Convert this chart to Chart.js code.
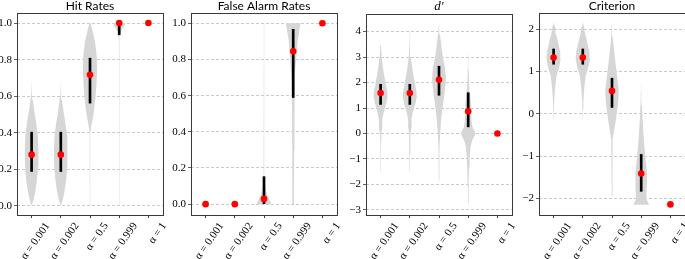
<!DOCTYPE html>
<html>
<head>
<meta charset="utf-8">
<script src="https://cdn.jsdelivr.net/npm/chart.js@4.4.1/dist/chart.umd.min.js"></script>
<style>
  html, body { margin: 0; padding: 0; background: #fff; }
  #wrap { position: relative; width: 685px; height: 259px; overflow: hidden; }
  canvas { position: absolute; top: 0; }
</style>
</head>
<body>
<div id="wrap">
  <canvas id="c0"></canvas>
  <canvas id="c1"></canvas>
  <canvas id="c2"></canvas>
  <canvas id="c3"></canvas>
</div>
<script>
// categories shared by all four panels
const categories = ['α = 0.001', 'α = 0.002', 'α = 0.5', 'α = 0.999', 'α = 1'];

// --- Hit Rates ---
const hitMedian = [0.28, 0.28, 0.717, 1.0, 1.0];
const hitQ1 = [0.188, 0.188, 0.562, 0.936, null];
const hitQ3 = [0.403, 0.403, 0.808, 1.0, null];
const hitTicks = [0, 0.2, 0.4, 0.6, 0.8, 1.0];
const hitTickLabels = ['0.0', '0.2', '0.4', '0.6', '0.8', '1.0'];
// violin outlines: [value, half width]
const hitViolins = [
  [[0,0],[0.03,0.06],[0.08,0.13],[0.15,0.19],[0.22,0.225],[0.3,0.235],[0.38,0.215],[0.45,0.16],[0.52,0.09],[0.58,0.04],[0.62,0.015],[0.7,0.006],[1.0,0.005]],
  [[0,0],[0.03,0.06],[0.08,0.13],[0.15,0.19],[0.22,0.225],[0.3,0.235],[0.38,0.215],[0.45,0.16],[0.52,0.09],[0.58,0.04],[0.62,0.015],[0.7,0.006],[1.0,0.005]],
  [[0,0.005],[0.3,0.006],[0.4,0.012],[0.45,0.06],[0.5,0.12],[0.58,0.18],[0.66,0.22],[0.75,0.245],[0.82,0.23],[0.9,0.17],[0.95,0.1],[1.0,0.02]],
  [[0,0.005],[0.6,0.005],[0.85,0.006],[0.92,0.015],[0.95,0.04],[0.97,0.1],[0.985,0.18],[1.0,0.22]],
  [[0.75,0.005],[1.0,0.006]]
];

// --- False Alarm Rates ---
const faMedian = [0, 0, 0.029, 0.845, 1.0];
const faQ1 = [null, null, 0.0, 0.59, null];
const faQ3 = [null, null, 0.152, 0.967, null];
const faTicks = [0, 0.2, 0.4, 0.6, 0.8, 1.0];
const faTickLabels = ['0.0', '0.2', '0.4', '0.6', '0.8', '1.0'];
const faViolins = [
  [[0,0.006],[1.0,0.005]],
  [[0,0.006],[1.0,0.005]],
  [[0,0.25],[0.015,0.22],[0.03,0.17],[0.05,0.11],[0.08,0.06],[0.12,0.03],[0.2,0.012],[0.35,0.008],[0.6,0.006],[1.0,0.005]],
  [[0,0.015],[0.1,0.025],[0.3,0.03],[0.5,0.035],[0.6,0.04],[0.7,0.06],[0.8,0.1],[0.9,0.15],[0.95,0.2],[1.0,0.25]],
  [[0.15,0.005],[1.0,0.006]]
];

// --- d' ---
const dMedian = [1.59, 1.59, 2.11, 0.87, 0];
const dQ1 = [1.14, 1.14, 1.5, 0.26, null];
const dQ3 = [1.93, 1.93, 2.64, 1.6, null];
const dTicks = [-3, -2, -1, 0, 1, 2, 3, 4];
const dTickLabels = ['−3', '−2', '−1', '0', '1', '2', '3', '4'];
const dViolins = [
  [[-1.5,0.005],[-0.8,0.008],[-0.3,0.014],[0,0.025],[0.2,0.05],[0.3,0.065],[0.45,0.05],[0.6,0.065],[0.8,0.1],[1.0,0.15],[1.2,0.2],[1.45,0.24],[1.6,0.235],[1.8,0.2],[2.0,0.17],[2.3,0.12],[2.6,0.08],[3.0,0.035],[3.5,0.012],[4.0,0.007],[4.35,0.004]],
  [[-1.5,0.005],[-0.8,0.008],[-0.3,0.014],[0,0.025],[0.2,0.05],[0.3,0.065],[0.45,0.05],[0.6,0.065],[0.8,0.1],[1.0,0.15],[1.2,0.2],[1.45,0.24],[1.6,0.235],[1.8,0.2],[2.0,0.17],[2.3,0.12],[2.6,0.08],[3.0,0.035],[3.5,0.012],[4.0,0.007],[4.35,0.004]],
  [[-1.85,0.005],[-1.2,0.009],[-0.6,0.018],[0,0.04],[0.5,0.07],[1.0,0.12],[1.5,0.18],[2.0,0.23],[2.2,0.235],[2.6,0.2],[3.0,0.13],[3.5,0.075],[3.9,0.03],[4.3,0.005]],
  [[-2.8,0.004],[-2.3,0.008],[-1.8,0.02],[-1.3,0.035],[-0.9,0.05],[-0.5,0.085],[-0.25,0.145],[-0.08,0.23],[0,0.25],[0.1,0.22],[0.25,0.145],[0.5,0.115],[0.8,0.11],[1.0,0.11],[1.3,0.085],[1.6,0.06],[2.0,0.035],[2.5,0.015],[3.0,0.007],[3.3,0.004]],
  [[-1.45,0.005],[3.2,0.005]]
];

// --- Criterion ---
const critMedian = [1.33, 1.33, 0.54, -1.41, -2.14];
const critQ1 = [1.17, 1.17, 0.15, -1.83, null];
const critQ3 = [1.53, 1.53, 0.84, -0.96, null];
const critTicks = [-2, -1, 0, 1, 2];
const critTickLabels = ['−2', '−1', '0', '1', '2'];
const critViolins = [
  [[-0.12,0.004],[0.1,0.008],[0.3,0.02],[0.6,0.05],[0.9,0.1],[1.1,0.19],[1.3,0.245],[1.45,0.23],[1.6,0.18],[1.8,0.115],[1.88,0.08],[1.95,0.07],[2.02,0.055],[2.1,0.02],[2.17,0.005]],
  [[-0.12,0.004],[0.1,0.008],[0.3,0.02],[0.6,0.05],[0.9,0.1],[1.1,0.19],[1.3,0.245],[1.45,0.23],[1.6,0.18],[1.8,0.115],[1.88,0.08],[1.95,0.07],[2.02,0.055],[2.1,0.02],[2.17,0.005]],
  [[-1.95,0.004],[-1.2,0.007],[-0.6,0.03],[-0.4,0.07],[-0.2,0.12],[0,0.16],[0.2,0.2],[0.45,0.23],[0.6,0.225],[0.8,0.19],[1.0,0.155],[1.2,0.12],[1.5,0.07],[1.8,0.03],[2.14,0.004]],
  [[-2.15,0.27],[-2.08,0.22],[-2.0,0.17],[-1.85,0.18],[-1.6,0.2],[-1.4,0.2],[-1.2,0.17],[-1.0,0.14],[-0.7,0.1],[-0.4,0.07],[-0.1,0.045],[0.2,0.025],[0.5,0.012],[0.8,0.006],[1.15,0.003]],
  [[-2.16,0.17],[-2.14,0.17],[-2.12,0.005],[-0.1,0.004]]
];

const SERIF = '"Liberation Serif", "DejaVu Serif", serif';
const SANS = 'Lato, "DejaVu Sans", sans-serif';

// canvas widths include 4px that the layout keeps free on the right
const panels = [
  { id: 'c0', title: 'Hit Rates', titleFont: { family: SANS, size: 12 }, median: hitMedian, q1: hitQ1, q3: hitQ3,
    violins: hitViolins, ticks: hitTicks, tickLabels: hitTickLabels, ymin: -0.05, ymax: 1.055, left: 0, axisW: 17, width: 167 },
  { id: 'c1', title: 'False Alarm Rates', titleFont: { family: SANS, size: 12 }, median: faMedian, q1: faQ1, q3: faQ3,
    violins: faViolins, ticks: faTicks, tickLabels: faTickLabels, ymin: -0.06, ymax: 1.057, left: 163, axisW: 28, width: 178 },
  { id: 'c2', title: 'd′', titleFont: { family: SERIF, size: 13, style: 'italic' }, median: dMedian, q1: dQ1, q3: dQ3,
    violins: dViolins, ticks: dTicks, tickLabels: dTickLabels, ymin: -3.2, ymax: 4.69, left: 337, axisW: 29, width: 179 },
  { id: 'c3', title: 'Criterion', titleFont: { family: SANS, size: 12 }, median: critMedian, q1: critQ1, q3: critQ3,
    violins: critViolins, ticks: critTicks, tickLabels: critTickLabels, ymin: -2.39, ymax: 2.38, left: 511, axisW: 28, width: 178 }
];

function violinPoints(profile, x) {
  const right = profile.map(([y, w]) => ({ x: x + w, y }));
  const left = profile.slice().reverse().map(([y, w]) => ({ x: x - w, y }));
  return right.concat(left);
}

// box around the plot area, like matplotlib spines
const frame = {
  id: 'frame',
  afterDraw(chart) {
    const { ctx, chartArea: a } = chart;
    ctx.save();
    ctx.strokeStyle = '#3a3a3a';
    ctx.lineWidth = 1;
    ctx.strokeRect(Math.round(a.left) + 0.5, Math.round(a.top) + 0.5,
      Math.round(a.right - a.left), Math.round(a.bottom - a.top));
    ctx.restore();
  }
};

panels.forEach(p => {
  const canvas = document.getElementById(p.id);
  canvas.width = p.width;
  canvas.height = 259;
  canvas.style.left = p.left + 'px';

  const datasets = [];
  p.violins.forEach((v, i) => {
    datasets.push({
      type: 'line',
      data: violinPoints(v, i),
      fill: 'shape',
      backgroundColor: '#d6d6d6',
      borderColor: 'rgba(0,0,0,0)',
      borderWidth: 0,
      pointRadius: 0,
      tension: 0,
      order: 3
    });
  });
  datasets.push({
    type: 'bar',
    data: p.q1.map((q, i) => q === null ? null : { x: i, y: [q, p.q3[i]] }).filter(d => d),
    backgroundColor: '#000',
    barThickness: 2,
    order: 1
  });
  datasets.push({
    type: 'scatter',
    data: p.median.map((m, i) => ({ x: i, y: m })),
    backgroundColor: '#ff0000',
    borderWidth: 0,
    pointRadius: 3.3,
    order: 0
  });

  new Chart(canvas, {
    type: 'scatter',
    data: { datasets },
    options: {
      responsive: false,
      animation: false,
      devicePixelRatio: 1,
      layout: { padding: { right: 1 } },
      plugins: {
        legend: { display: false },
        tooltip: { enabled: false },
        title: {
          display: true,
          text: p.title,
          fullSize: false,
          color: '#000',
          font: Object.assign({ weight: 'normal', lineHeight: 1 }, p.titleFont),
          padding: { top: 0, bottom: 1 }
        }
      },
      scales: {
        x: {
          type: 'linear',
          min: -0.5,
          max: 4.5,
          offset: false,
          afterBuildTicks: s => { s.ticks = categories.map((c, i) => ({ value: i })); },
          afterFit: s => { s.height = 44; s.paddingLeft = 0; s.paddingRight = 0; },
          grid: { offset: false, drawOnChartArea: false, tickLength: 3, tickColor: '#3a3a3a' },
          border: { display: false },
          ticks: {
            autoSkip: false,
            minRotation: 55,
            maxRotation: 55,
            labelOffset: 16,
            padding: 2,
            color: '#000',
            font: { family: SERIF, size: 11 },
            callback: (v, i) => categories[i]
          }
        },
        y: {
          min: p.ymin,
          max: p.ymax,
          afterBuildTicks: s => { s.ticks = p.ticks.map(v => ({ value: v })); },
          afterFit: s => { s.width = p.axisW; s.paddingTop = 0; s.paddingBottom = 0; },
          grid: { color: '#bdbdbd', lineWidth: 0.8, tickLength: 3, tickColor: '#3a3a3a', tickBorderDash: [] },
          border: { display: false, dash: [3, 2] },
          ticks: {
            padding: 2,
            color: '#000',
            font: { family: SERIF, size: 11 },
            callback: (v, i) => p.tickLabels[i]
          }
        }
      }
    },
    plugins: [frame]
  });
});
</script>
</body>
</html>
